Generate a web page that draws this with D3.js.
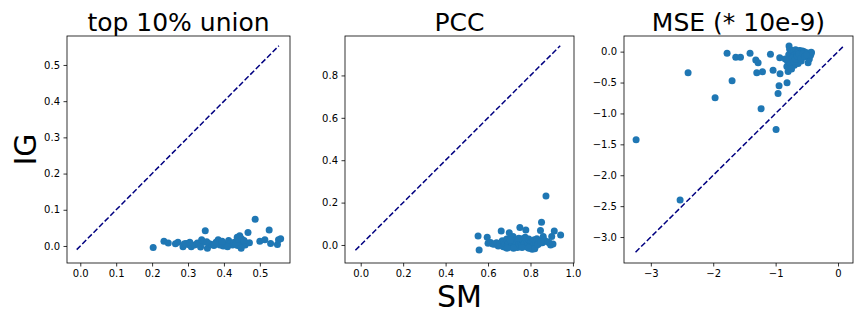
<!DOCTYPE html>
<html>
<head>
<meta charset="utf-8">
<script src="https://cdn.jsdelivr.net/npm/d3@7"></script>
<style>
body { margin: 0; background: #fff; }
text { font-family: "DejaVu Sans", sans-serif; }
</style>
</head>
<body>
<svg id="chart" width="864" height="324"></svg>
<script>
// panel titles and axis labels
var titles = ["top 10% union", "PCC", "MSE (* 10e-9)"];
var xLabel = "SM";
var yLabel = "IG";

// top 10% union: SM (x) vs IG (y)
var unionSM = [
  0.203,0.233,0.245,0.265,0.272,0.286,0.295,0.300,0.309,0.318,
  0.326,0.331,0.338,0.343,0.348,0.354,0.360,0.366,0.372,0.378,
  0.384,0.389,0.393,0.398,0.403,0.408,0.413,0.418,0.424,0.429,
  0.434,0.437,0.441,0.444,0.446,0.449,0.452,0.455,0.459,0.462,
  0.467,0.471,0.487,0.500,0.514,0.526,0.530,0.549,0.552,0.558,
  0.290,0.305,0.335,0.352,0.376,0.395,0.410,0.438,0.448,0.456];
var unionIG = [
  -0.004,0.013,0.008,0.006,0.010,-0.002,0.007,0.004,-0.002,0.003,
  0.008,0.005,0.017,0.010,0.042,-0.006,0.006,0.004,0.001,0.010,
  0.017,0.003,0.009,0.000,0.006,0.002,0.015,0.007,0.003,0.010,
  0.005,0.024,0.012,0.028,0.000,0.020,0.006,0.014,0.003,0.008,
  0.037,0.009,0.074,0.013,0.017,0.044,0.007,0.004,0.017,0.020,
  0.006,0.010,-0.003,0.012,0.005,0.013,-0.002,0.001,-0.006,0.015];

// PCC
var pccSM = [
  0.553,0.558,0.596,0.600,0.612,0.622,0.630,0.640,0.648,0.655,
  0.662,0.667,0.672,0.676,0.680,0.684,0.688,0.692,0.696,0.700,
  0.704,0.706,0.710,0.714,0.718,0.722,0.726,0.730,0.734,0.738,
  0.742,0.746,0.750,0.755,0.758,0.762,0.766,0.770,0.774,0.778,
  0.782,0.784,0.788,0.792,0.796,0.800,0.804,0.808,0.810,0.814,
  0.818,0.822,0.826,0.830,0.834,0.838,0.842,0.847,0.852,0.856,
  0.860,0.866,0.873,0.880,0.888,0.895,0.900,0.906,0.912,0.942,
  0.690,0.720,0.760,0.790,0.820,0.705,0.745,0.775,0.835,0.850];
var pccIG = [
  0.042,-0.024,0.036,0.008,0.012,0.005,0.003,0.010,-0.005,0.002,
  0.066,0.020,-0.008,0.015,0.004,-0.012,0.028,0.000,0.010,0.058,
  -0.010,0.030,0.012,0.002,0.040,-0.006,0.020,0.008,0.015,-0.012,
  0.025,0.005,0.083,0.010,-0.004,0.030,0.018,0.002,0.012,0.071,
  -0.008,0.020,0.005,0.028,-0.015,0.010,0.002,-0.020,0.015,0.006,
  0.025,-0.010,0.012,0.030,0.004,0.020,0.008,0.068,0.107,0.010,
  0.040,0.022,0.231,0.015,0.010,0.000,0.040,0.005,0.066,0.047,
  -0.015,-0.015,-0.012,-0.014,-0.018,0.022,0.032,0.036,0.002,0.015];

// MSE (* 10e-9)
var mseSM = [
  -3.236,-2.531,-2.403,-1.970,-1.778,-1.698,-1.639,-1.563,-1.410,-1.318,
  -1.281,-1.302,-1.211,-1.233,-1.083,-1.041,-0.993,-0.961,-0.945,-0.929,
  -0.934,-0.817,-0.785,-0.800,-0.426,-0.480,-0.820,-0.810,-0.790,-0.775,
  -0.760,-0.750,-0.740,-0.730,-0.720,-0.710,-0.700,-0.690,-0.680,-0.670,
  -0.660,-0.650,-0.640,-0.630,-0.620,-0.610,-0.600,-0.590,-0.580,-0.570,
  -0.560,-0.550,-0.540,-0.520,-0.500,-0.460,-0.440,-0.430,-0.770,-0.745,
  -0.725,-0.705,-0.685,-0.655,-0.625,-0.595,-0.565,-0.535,-0.505,-0.845];
var mseIG = [
  -1.427,-2.400,-0.341,-0.746,-0.028,-0.470,-0.092,-0.092,-0.028,-0.136,
  -0.178,-0.341,-0.324,-0.924,-0.044,-0.303,-1.260,-0.676,-0.551,-0.357,
  -0.097,-0.503,0.090,-0.320,-0.017,-0.178,-0.240,-0.150,-0.050,0.040,
  -0.260,-0.120,0.020,-0.200,-0.080,0.010,-0.220,-0.050,0.030,-0.140,
  -0.030,0.000,-0.190,-0.100,0.020,-0.060,0.010,-0.150,-0.020,0.010,
  -0.090,-0.040,0.000,-0.070,-0.020,-0.120,-0.060,-0.010,-0.180,-0.280,
  -0.100,-0.160,-0.120,-0.070,-0.040,-0.110,-0.030,-0.080,-0.050,-0.120];

// y = x reference line end points
var unionDiag = [-0.010, 0.553];
var pccDiag = [-0.025, 0.940];
var mseDiag = [-3.245, 0.080];

// axis limits and ticks
var unionXLim = [-0.037, 0.584], unionYLim = [-0.047, 0.580];
var pccXLim = [-0.074, 1.005], pccYLim = [-0.085, 0.986];
var mseXLim = [-3.43, 0.24], mseYLim = [-3.42, 0.253];
var unionXTicks = [0, 0.1, 0.2, 0.3, 0.4, 0.5];
var unionYTicks = [0, 0.1, 0.2, 0.3, 0.4, 0.5];
var pccXTicks = [0, 0.2, 0.4, 0.6, 0.8, 1.0];
var pccYTicks = [0, 0.2, 0.4, 0.6, 0.8];
var mseXTicks = [-3, -2, -1, 0];
var mseYTicks = [0, -0.5, -1.0, -1.5, -2.0, -2.5, -3.0];

var panels = [
  {title: titles[0], xs: unionSM, ys: unionIG, diag: unionDiag, xlim: unionXLim, ylim: unionYLim,
   xt: unionXTicks, yt: unionYTicks, xf: ".1f", yf: ".1f", left: 67, right: 290},
  {title: titles[1], xs: pccSM, ys: pccIG, diag: pccDiag, xlim: pccXLim, ylim: pccYLim,
   xt: pccXTicks, yt: pccYTicks, xf: ".1f", yf: ".1f", left: 345, right: 574},
  {title: titles[2], xs: mseSM, ys: mseIG, diag: mseDiag, xlim: mseXLim, ylim: mseYLim,
   xt: mseXTicks, yt: mseYTicks, xf: "d", yf: ".1f", left: 624, right: 853}
];

var plotTop = 36, plotBottom = 263;
var svg = d3.select("#chart");

panels.forEach(function(p) {
  var x = d3.scaleLinear().domain(p.xlim).range([p.left, p.right]);
  var y = d3.scaleLinear().domain(p.ylim).range([plotBottom, plotTop]);
  var g = svg.append("g");

  // diagonal
  g.append("line")
    .attr("x1", x(p.diag[0])).attr("y1", y(p.diag[0]))
    .attr("x2", x(p.diag[1])).attr("y2", y(p.diag[1]))
    .attr("stroke", "navy")
    .attr("stroke-width", 1.5)
    .attr("stroke-dasharray", "5.55,2.4");

  g.selectAll("circle")
    .data(p.xs)
    .enter()
    .append("circle")
    .attr("cx", function(d){ return x(d); })
    .attr("cy", function(d, i){ return y(p.ys[i]); })
    .attr("r", 3.5)
    .attr("fill", "#1f77b4");

  var xAxis = d3.axisBottom(x).tickValues(p.xt).tickFormat(d3.format(p.xf))
    .tickSizeInner(3.5).tickSizeOuter(0).tickPadding(3.5);
  var yAxis = d3.axisLeft(y).tickValues(p.yt).tickFormat(d3.format(p.yf))
    .tickSizeInner(3.5).tickSizeOuter(0).tickPadding(3.5);

  var gx = g.append("g").attr("transform", "translate(0," + plotBottom + ")").call(xAxis);
  var gy = g.append("g").attr("transform", "translate(" + p.left + ",0)").call(yAxis);
  [gx, gy].forEach(function(a) {
    a.attr("font-family", null).attr("font-size", null);
    a.select(".domain").remove();
    a.selectAll(".tick line").attr("stroke", "#000").attr("stroke-width", 0.8);
    a.selectAll(".tick text").attr("fill", "#000")
      .style("font-family", "DejaVu Sans").style("font-size", "10px");
  });

  // frame
  g.append("rect")
    .attr("x", p.left).attr("y", plotTop)
    .attr("width", p.right - p.left).attr("height", plotBottom - plotTop)
    .attr("fill", "none").attr("stroke", "#000").attr("stroke-width", 0.8);

  g.append("text")
    .text(p.title)
    .attr("x", (p.left + p.right) / 2)
    .attr("y", 31)
    .attr("text-anchor", "middle")
    .style("font-size", "25px");
});

svg.append("text")
  .text(xLabel)
  .attr("x", (panels[1].left + panels[1].right) / 2)
  .attr("y", 307)
  .attr("text-anchor", "middle")
  .style("font-size", "30px");

svg.append("text")
  .text(yLabel)
  .attr("transform", "translate(36," + ((plotTop + plotBottom) / 2) + ") rotate(-90)")
  .attr("text-anchor", "middle")
  .style("font-size", "30px");
</script>
</body>
</html>
